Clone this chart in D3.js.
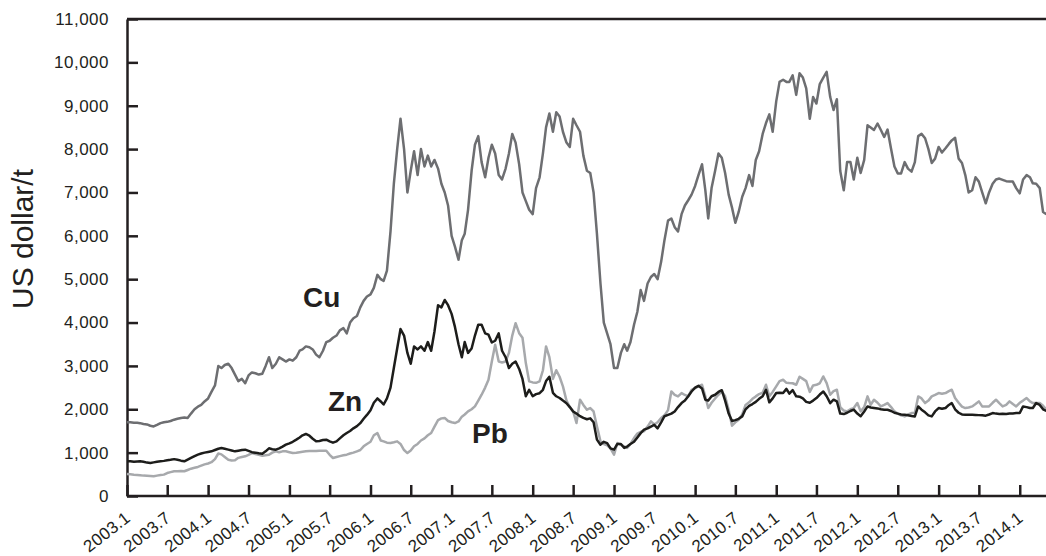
<!DOCTYPE html>
<html>
<head>
<meta charset="utf-8">
<script src="https://cdn.jsdelivr.net/npm/d3@7"></script>
<style>
  body { margin: 0; background: #fff; }
  text { font-family: "Liberation Sans", Arial, sans-serif; fill: #231f20; }
  .axis path, .axis line { stroke: #231f20; stroke-width: 2.5; }
  .axis text { font-size: 17px; letter-spacing: 0.5px; }
  .x-axis text { font-size: 17px; letter-spacing: 0.3px; }
  .line { fill: none; stroke-width: 2.5; stroke-linejoin: round; }
</style>
</head>
<body>
<script>
// semi-monthly prices (1st and 16th of each month), 2003.1 - 2014.5, US dollar/t
const cuPrices = [
  1700,1700,1690,1690,1680,1660,1650,1620,1605,1640,
  1680,1700,1710,1730,1760,1780,1800,1810,1800,1900,
  2000,2060,2100,2180,2250,2400,2550,3000,2950,3020,
  3050,2950,2800,2650,2700,2600,2780,2850,2830,2800,
  2820,3000,3200,2950,3050,3200,3150,3100,3150,3120,
  3200,3350,3380,3450,3430,3380,3260,3200,3350,3550,
  3580,3650,3700,3820,3870,3750,4000,4100,4150,4350,
  4500,4600,4650,4800,5100,5000,4960,5200,6100,7200,
  8000,8700,8000,7000,7500,7950,7400,8000,7600,7850,
  7600,7750,7550,7200,7000,6700,6000,5750,5450,5900,
  6050,6600,7500,8100,8300,7700,7350,7800,8100,7900,
  7400,7300,7550,7900,8350,8150,7650,7000,6800,6600,
  6500,7100,7350,7900,8500,8820,8400,8850,8750,8400,
  8150,8050,8700,8550,8400,7850,7500,7450,7000,6050,
  4900,4000,3750,3500,2950,2950,3300,3500,3350,3550,
  3950,4250,4750,4500,4900,5050,5120,5000,5400,5900,
  6350,6400,6200,6100,6500,6700,6820,6950,7150,7400,
  7650,7050,6400,7100,7500,7900,7800,7450,6950,6650,
  6300,6550,6900,7100,7400,7150,7750,7950,8350,8600,
  8800,8400,9100,9550,9600,9550,9550,9700,9250,9750,
  9650,9400,8700,9200,9050,9500,9650,9780,9200,8900,
  9150,7500,7050,7700,7700,7300,7800,7450,7750,8550,
  8500,8440,8590,8440,8280,8450,8000,7600,7440,7440,
  7700,7550,7480,7700,8300,8350,8250,8000,7680,7780,
  8050,7920,8020,8120,8200,8260,7780,7680,7400,7000,
  7050,7350,7250,7000,6750,7000,7200,7300,7320,7290,
  7260,7250,7250,7100,6980,7300,7400,7350,7210,7200,
  7100,6550,6500
];

const znPrices = [
  800,800,790,795,800,790,770,760,775,790,
  800,810,825,835,850,835,815,800,840,880,
  920,955,980,1000,1015,1030,1060,1090,1107,1090,
  1070,1050,1030,1045,1060,1068,1040,1010,1000,985,
  976,1030,1100,1080,1068,1100,1140,1184,1215,1250,
  1300,1350,1400,1430,1390,1320,1261,1270,1290,1299,
  1260,1230,1260,1330,1400,1453,1500,1560,1610,1680,
  1780,1870,1980,2150,2250,2180,2110,2250,2500,2950,
  3400,3850,3700,3300,3050,3450,3380,3450,3350,3550,
  3350,3800,4400,4350,4520,4400,4200,3900,3500,3200,
  3550,3300,3400,3700,3950,3950,3750,3720,3540,3580,
  3750,3350,3200,2950,3050,3100,2930,2700,2300,2450,
  2300,2350,2370,2450,2650,2750,2380,2300,2260,2200,
  2140,2050,1950,1900,1840,1800,1770,1790,1700,1300,
  1184,1250,1220,1100,1069,1200,1200,1107,1140,1200,
  1250,1350,1450,1529,1560,1600,1640,1560,1700,1840,
  1870,1900,1950,2050,2143,2200,2300,2410,2500,2540,
  2480,2220,2200,2300,2335,2400,2440,2200,1900,1730,
  1750,1780,1836,2000,2080,2120,2170,2240,2300,2450,
  2160,2250,2374,2380,2374,2470,2360,2440,2300,2290,
  2250,2170,2150,2200,2259,2340,2410,2300,2143,2220,
  2180,1900,1890,1920,1960,1990,1900,1840,1950,2066,
  2040,2030,2020,2000,1990,1990,1960,1920,1900,1880,
  1875,1860,1845,1836,2066,1990,1930,1860,1836,1950,
  2028,2010,2030,2100,2143,2000,1920,1880,1875,1875,
  1875,1870,1865,1860,1852,1880,1913,1900,1890,1895,
  1890,1900,1905,1913,1913,2066,2050,2028,2030,2143,
  2100,2000,1960
];

const pbPrices = [
  508,500,490,485,478,470,465,460,455,470,
  485,493,530,550,570,570,575,570,600,630,
  650,670,700,730,750,780,850,980,960,900,
  838,820,823,880,900,915,950,990,970,950,
  930,940,950,1000,1030,1010,1030,1030,1010,992,
  1000,1010,1020,1030,1035,1040,1040,1045,1045,1045,
  950,876,900,920,940,953,980,1000,1030,1060,
  1145,1200,1250,1400,1450,1280,1260,1230,1222,1240,
  1260,1200,1060,990,1050,1146,1200,1280,1330,1400,
  1453,1600,1750,1790,1800,1730,1700,1683,1720,1830,
  1880,1950,2000,2067,2200,2336,2500,2681,3100,3487,
  3100,3080,3103,3300,3700,3985,3755,3650,3065,2643,
  2620,2610,2643,2900,3450,3200,2700,2900,2750,2527,
  2200,2050,1952,1683,2221,2100,1990,2029,1950,1606,
  1261,1200,1170,1100,954,1222,1180,1146,1107,1200,
  1337,1440,1480,1491,1600,1721,1650,1700,1800,1860,
  1980,2412,2330,2297,2374,2330,2297,2450,2489,2530,
  2565,2300,2028,2150,2250,2335,2412,2300,1990,1620,
  1700,1760,1880,2100,2160,2240,2297,2350,2380,2565,
  2300,2400,2527,2650,2680,2610,2604,2600,2565,2750,
  2700,2650,2400,2550,2565,2600,2757,2604,2335,2420,
  2450,2050,1970,1951,2000,2028,2143,1951,2050,2297,
  2105,2220,2150,2066,2100,2143,2050,1951,1900,1860,
  1836,1880,1913,1913,2297,2250,2143,2200,2297,2330,
  2374,2360,2374,2420,2450,2259,2150,2060,2028,2040,
  2066,2120,2182,2066,2066,2066,2150,2220,2140,2066,
  2100,2182,2120,2066,2150,2200,2259,2180,2143,2143,
  2143,2080,1990
];

const xTickLabels = [
  "2003.1","2003.7","2004.1","2004.7","2005.1","2005.7","2006.1","2006.7",
  "2007.1","2007.7","2008.1","2008.7","2009.1","2009.7","2010.1","2010.7",
  "2011.1","2011.7","2012.1","2012.7","2013.1","2013.7","2014.1"
];
const yTicks = [0,1000,2000,3000,4000,5000,6000,7000,8000,9000,10000,11000];
const yTitle = "US dollar/t";

let margin = null,
    width = null,
    height = null;

let svg = null;
let x, y = null;
let series = null;

setupCanvasSize();
buildSeries();
appendSvg("body");
setupXScale();
setupYScale();
appendXAxis();
appendYAxis();
appendLineCharts();
appendLabels();


function setupCanvasSize() {
  margin = {top: 19, left: 127, bottom: 60, right: 0};
  width = 1046 - margin.left - margin.right;
  height = 556 - margin.top - margin.bottom;
}

// point i is the 1st (even) or 16th (odd) of the month
function dateAt(i) {
  return new Date(2003, Math.floor(i / 2), i % 2 ? 16 : 1);
}

function buildSeries() {
  const toPoints = arr => arr.map((v, i) => ({date: dateAt(i), value: v}));
  series = [
    {name: "Cu", color: "#6d6e71", points: toPoints(cuPrices)},
    {name: "Pb", color: "#a7a9ac", points: toPoints(pbPrices)},
    {name: "Zn", color: "#1d1d1b", points: toPoints(znPrices)}
  ];
}

function appendSvg(domElement) {
  svg = d3.select(domElement).append("svg")
              .attr("width", width + margin.left + margin.right)
              .attr("height", height + margin.top + margin.bottom)
              .append("g")
              .attr("transform", `translate(${margin.left}, ${margin.top})`);
}

function setupXScale() {
  x = d3.scaleTime()
      .range([0, 919.4])
      .domain([new Date(2003, 0, 1), new Date(2014, 4, 1)]);
}

function setupYScale() {
  y = d3.scaleLinear()
        .range([height, 0])
        .domain([0, 11000]);
}

function appendXAxis() {
  const tickDates = xTickLabels.map(s => {
    const [yr, mo] = s.split(".");
    return new Date(+yr, +mo - 1, 1);
  });

  const g = svg.append("g")
    .attr("class", "axis x-axis")
    .attr("transform", `translate(0, ${height})`)
    .call(d3.axisBottom(x)
      .tickValues(tickDates)
      .tickSize(-11)
      .tickSizeOuter(0)
      .tickFormat((d, i) => xTickLabels[i]));

  g.select(".domain").attr("d", `M0,0H${width}`);

  g.selectAll(".tick text")
    .attr("x", 0)
    .attr("y", 0)
    .attr("dy", 0)
    .attr("transform", "translate(4, 24) rotate(-38)")
    .style("text-anchor", "end");

  // top border
  svg.append("line")
    .attr("x1", 0).attr("x2", width)
    .attr("y1", 0).attr("y2", 0)
    .attr("stroke", "#231f20")
    .attr("stroke-width", 2.5);
}

function appendYAxis() {
  svg.append("g")
    .attr("class", "axis")
    .call(d3.axisLeft(y)
      .tickValues(yTicks)
      .tickSize(-11)
      .tickSizeOuter(0)
      .tickPadding(18)
      .tickFormat(d3.format(",")));

  svg.append("text")
    .attr("transform", `translate(${33 - margin.left}, ${239 - margin.top}) rotate(-90)`)
    .style("text-anchor", "middle")
    .style("font-size", "30px")
    .text(yTitle);
}

function appendLineCharts() {
  const valueline = d3.line()
                    .x(d => x(d.date))
                    .y(d => y(d.value));

  svg.selectAll(".line")
    .data(series)
    .enter().append("path")
    .attr("class", "line")
    .attr("stroke", d => d.color)
    .attr("d", d => valueline(d.points));
}

function appendLabels() {
  const spots = {Cu: [176, 288], Zn: [201, 392], Pb: [345, 424]};
  svg.selectAll(".series-label")
    .data(series)
    .enter().append("text")
    .attr("class", "series-label")
    .attr("x", d => spots[d.name][0])
    .attr("y", d => spots[d.name][1])
    .style("font-size", "28px")
    .style("font-weight", "bold")
    .text(d => d.name);
}
</script>
</body>
</html>
